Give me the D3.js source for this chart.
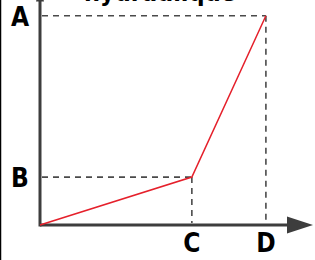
<!DOCTYPE html>
<html>
<head>
<meta charset="utf-8">
<script src="https://cdn.jsdelivr.net/npm/d3@7"></script>
<style>
  body { margin: 0; background: #fff; }
  svg { display: block; }
  .lbl { font-family: "Liberation Sans Narrow", "DejaVu Sans Condensed", sans-serif; font-weight: bold; fill: #000; }
</style>
</head>
<body>
<svg id="chart"></svg>
<script>
// Chart data (abstract units)
var curveX = [0, 60.5, 90];
var curveY = [0, 21.3, 93];
var xTicks = ["C", "D"],
    xTickValues = [60.5, 90];
var yTicks = ["A", "B"],
    yTickValues = [93, 21.3];
var title = "hydraulique";

var chart = d3.select("#chart");
	chart.width = 315;
	chart.height = 260;
	chart.attr("width", chart.width).attr("height", chart.height);

var axisColor = "#3d3d3d",
    dashColor = "#4a4a4a",
    red = "#e5202b";

var x = d3.scaleLinear().domain([0, 100]).range([40, 291]);
var y = d3.scaleLinear().domain([0, 100]).range([225, 0]);

// left frame line
chart.append("line")
	.attr("x1", 0.5).attr("x2", 0.5).attr("y1", 0).attr("y2", chart.height)
	.attr("stroke", "#000").attr("stroke-width", 1.5);

// title (cut off at top)
chart.append("text")
	.attr("class", "lbl")
	.attr("x", 160).attr("y", 1)
	.attr("text-anchor", "middle")
	.style("font-size", "25px")
	.text(title);

// dashed guides
var guides = yTickValues.map(function(v, i){ return [xTickValues[xTickValues.length - 1 - i], v]; });
guides.forEach(function(g){
	chart.append("line")
		.attr("x1", x(0) + 2).attr("x2", x(g[0]))
		.attr("y1", y(g[1])).attr("y2", y(g[1]))
		.attr("stroke", dashColor).attr("stroke-width", 1.6)
		.attr("stroke-dasharray", "6,5");
	chart.append("line")
		.attr("x1", x(g[0])).attr("x2", x(g[0]))
		.attr("y1", y(g[1])).attr("y2", y(0) - 2)
		.attr("stroke", dashColor).attr("stroke-width", 1.6)
		.attr("stroke-dasharray", "6,5");
});

// axes
chart.append("line")
	.attr("x1", x(0)).attr("x2", 288)
	.attr("y1", y(0)).attr("y2", y(0))
	.attr("stroke", axisColor).attr("stroke-width", 3);
chart.append("line")
	.attr("x1", x(0)).attr("x2", x(0))
	.attr("y1", y(0) + 1.5).attr("y2", 0)
	.attr("stroke", axisColor).attr("stroke-width", 3);
chart.append("path")
	.attr("d", "M287," + (y(0) - 8.5) + "L313," + y(0) + "L287," + (y(0) + 8.5) + "Z")
	.attr("fill", axisColor);
chart.append("path")
	.attr("d", "M" + (x(0) - 4) + ",1.5L" + x(0) + ",-14L" + (x(0) + 4) + ",1.5Z")
	.attr("fill", axisColor);

// curve
var line = d3.line()
	.x(function(d){ return x(d[0]); })
	.y(function(d){ return y(d[1]); });
chart.append("path")
	.datum(d3.zip(curveX, curveY))
	.attr("d", line)
	.attr("fill", "none")
	.attr("stroke", red)
	.attr("stroke-width", 1.5);

// tick labels
chart.selectAll(".xlab")
	.data(xTicks)
	.enter().append("text")
	.attr("class", "lbl xlab")
	.attr("x", function(d, i){ return x(xTickValues[i]); })
	.attr("y", 252)
	.attr("text-anchor", "middle")
	.style("font-size", "26px")
	.text(function(d){ return d; });
chart.selectAll(".ylab")
	.data(yTicks)
	.enter().append("text")
	.attr("class", "lbl ylab")
	.attr("x", 20)
	.attr("y", function(d, i){ return y(yTickValues[i]) + 10; })
	.attr("text-anchor", "middle")
	.style("font-size", "26px")
	.text(function(d){ return d; });
</script>
</body>
</html>
